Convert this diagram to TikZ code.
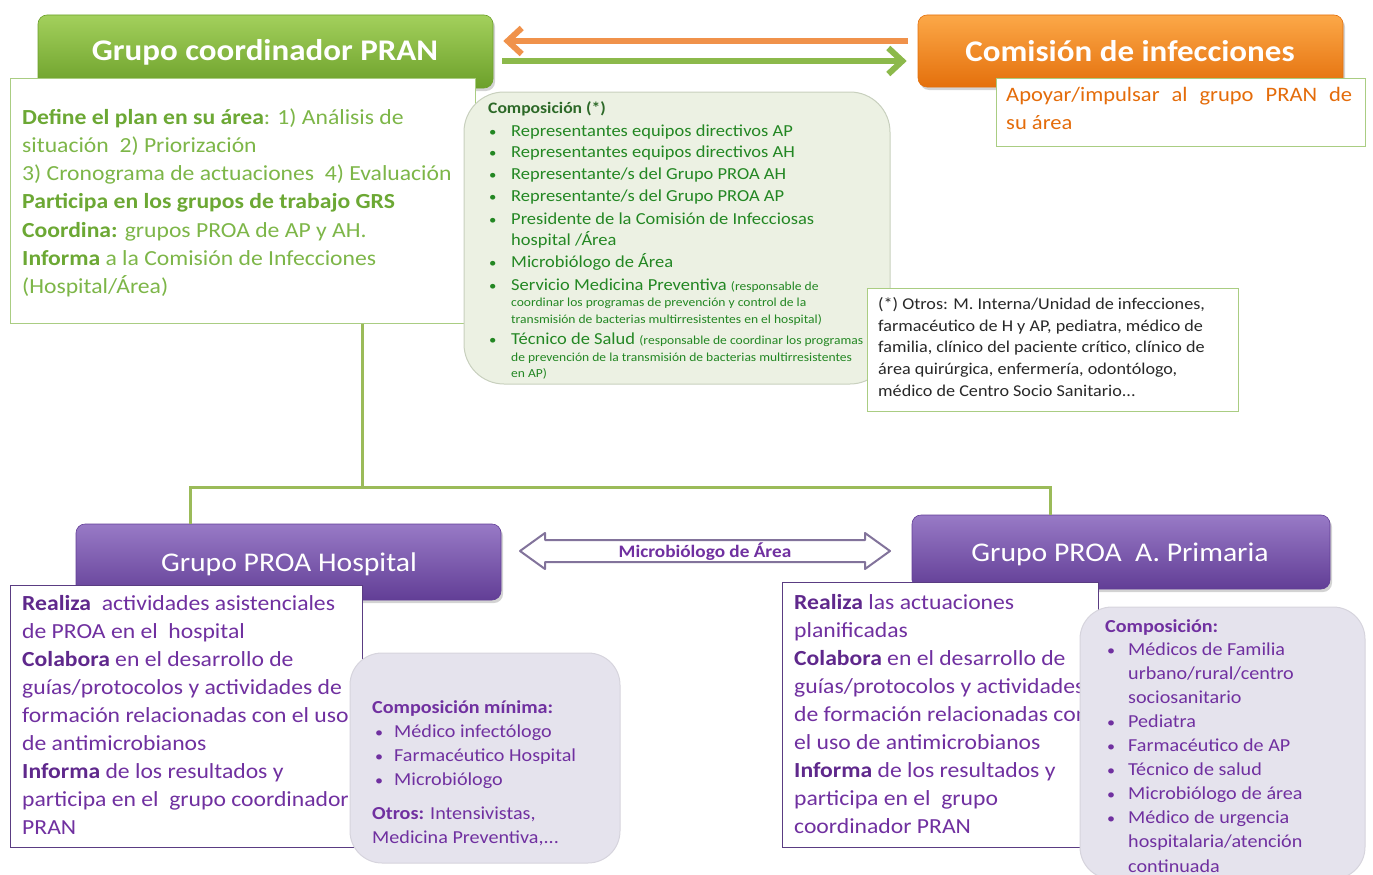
\documentclass[tikz,border=0pt]{standalone}
\usepackage{fontspec}
\setmainfont[FakeStretch=1.1]{Carlito}
\usetikzlibrary{arrows.meta,shadows,calc}
\definecolor{hgTop}{RGB}{163,208,92}
\definecolor{hgBot}{RGB}{108,160,42}
\definecolor{hoTop}{RGB}{252,168,72}
\definecolor{hoBot}{RGB}{228,112,12}
\definecolor{hpTop}{RGB}{152,122,198}
\definecolor{hpBot}{RGB}{98,62,150}
\definecolor{gReg}{RGB}{125,182,72}
\definecolor{gBold}{RGB}{108,168,52}
\definecolor{cGreen}{RGB}{35,135,35}
\definecolor{cTitle}{RGB}{45,105,40}
\definecolor{compFill}{RGB}{236,241,227}
\definecolor{compDraw}{RGB}{200,208,190}
\definecolor{oTxt}{RGB}{228,108,10}
\definecolor{otrosTxt}{RGB}{40,40,40}
\definecolor{pTxt}{RGB}{112,48,160}
\definecolor{pBold}{RGB}{95,40,140}
\definecolor{grayFill}{RGB}{229,227,237}
\definecolor{boxGreen}{RGB}{170,205,130}
\definecolor{boxPurple}{RGB}{90,60,130}
\definecolor{connG}{RGB}{155,187,89}
\definecolor{arrO}{RGB}{240,146,75}
\definecolor{arrG}{RGB}{140,185,75}
\definecolor{microDraw}{RGB}{130,115,155}
\newcommand\gbf[1]{{\bfseries\color{gBold}#1}}
\newcommand\pbf[1]{{\bfseries\color{pBold}#1}}
\newcommand\sm[1]{{\fontsize{12.3}{15}\selectfont #1}}
\newcommand\bul[1]{\makebox[#1][l]{\scalebox{0.8}{•}}}
\begin{document}
\begin{tikzpicture}[x=1pt,y=-1pt,
  hdr/.style={rounded corners=9pt, inner sep=0pt, drop shadow={opacity=0.35, shadow xshift=2pt, shadow yshift=-3pt}},
  hgreen/.style={hdr, top color=hgTop, bottom color=hgBot, draw=hgBot, line width=0.6pt},
  horange/.style={hdr, top color=hoTop, bottom color=hoBot, draw=hoBot, line width=0.6pt},
  hpurple/.style={hdr, top color=hpTop, bottom color=hpBot, draw=hpBot, line width=0.6pt},
  htitleB/.style={anchor=base, inner sep=0pt, text=white, font=\fontsize{30}{35}\selectfont\bfseries},
  htitle/.style={anchor=base, inner sep=0pt, text=white, font=\fontsize{27}{32}\selectfont},
  tbox/.style={draw=boxGreen, fill=white, line width=1pt, inner sep=0pt},
  pbox/.style={draw=boxPurple, fill=white, line width=1pt, inner sep=0pt},
  graybox/.style={fill=grayFill, draw=grayFill!85!gray, line width=1pt, rounded corners=32pt, inner sep=0pt},
  gtx/.style={anchor=base west, inner sep=0pt, font=\fontsize{21.5}{26}\selectfont, text=gReg},
  ctx/.style={anchor=base west, inner sep=0pt, font=\fontsize{16.8}{20}\selectfont, text=cGreen},
  otx/.style={anchor=base west, inner sep=0pt, font=\fontsize{20.5}{25}\selectfont, text=oTxt},
  rtx/.style={anchor=base west, inner sep=0pt, font=\fontsize{16.5}{20}\selectfont, text=otrosTxt},
  ptx/.style={anchor=base west, inner sep=0pt, font=\fontsize{21.5}{26}\selectfont, text=pTxt},
  ytx/.style={anchor=base west, inner sep=0pt, font=\fontsize{18.3}{22}\selectfont, text=pTxt},
  conn/.style={draw=connG, line width=3pt},
  bigarrow/.style={line width=6pt, -{Straight Barb[length=14pt,width=26pt]}}
]
\useasboundingbox (0,0) rectangle (1373,875);

% ---------- headers (drawn first, text boxes overlap them)
\node[hgreen, minimum width=455pt, minimum height=73pt] (pran) at (265.5,51.5) {};
\node[htitleB] (pranT) at (265,61) {Grupo coordinador PRAN};
\node[horange, minimum width=425pt, minimum height=72pt] (comision) at (1130.5,51) {};
\node[htitleB] (comisionT) at (1130,62) {Comisión de infecciones};

% ---------- arrows between headers
\draw[bigarrow, arrO] ([xshift=-10pt,yshift=10pt]comision.west) -- ([xshift=10pt,yshift=10pt]comision.west -| pran.east);
\draw[bigarrow, arrG] ([xshift=9pt,yshift=-9.5pt]pran.east) -- ([xshift=-11pt,yshift=-9.5pt]pran.east -| comision.west);

% ---------- connectors
\coordinate (jT) at (362,487);
\coordinate (jL) at (190,487);
\coordinate (jR) at (1050,487);
\node[hpurple, minimum width=425pt, minimum height=76pt] (hosp) at (288.5,562) {};
\node[hpurple, minimum width=418pt, minimum height=74pt] (prim) at (1121,552) {};
\node[tbox, minimum width=465pt, minimum height=245pt] (gtext) at (242.5,200.5) {};
\draw[conn] (gtext.south -| jT) -- (jT);
\draw[conn] (jL |- hosp.north) -- (jL) -- (jR) -- (jR |- prim.north);
\node[htitle] (hospT) at (289,571) {Grupo PROA Hospital};
\node[htitle] (primT) at (1120,561) {Grupo PROA\ \ A. Primaria};

% ---------- green text
\node[gtx] (g1) at (22,124) {\gbf{Define el plan en su área}: 1) Análisis de};
\node[gtx] (g2) at (22,152.3) {situación\ \ 2) Priorización};
\node[gtx] (g3) at (22,180.6) {3) Cronograma de actuaciones\ \ 4) Evaluación};
\node[gtx] (g4) at (22,208.9) {\gbf{Participa en los grupos de trabajo GRS}};
\node[gtx] (g5) at (22,237.2) {\gbf{Coordina:} grupos PROA de AP y AH.};
\node[gtx] (g6) at (22,265.5) {\gbf{Informa} a la Comisión de Infecciones};
\node[gtx] (g7) at (22,293.8) {(Hospital/Área)};

% ---------- composition box
\node[fill=compFill, draw=compDraw, line width=1pt, rounded corners=40pt, minimum width=426pt, minimum height=292pt, inner sep=0pt] (comp) at (677,238) {};
\node[ctx, text=cTitle, font=\fontsize{16}{20}\selectfont\bfseries] (c0) at (488,113) {Composición (*)};
\node[ctx] (c1) at (489,136) {\bul{22pt}Representantes equipos directivos AP};
\node[ctx] (c2) at (489,157) {\bul{22pt}Representantes equipos directivos AH};
\node[ctx] (c3) at (489,179.3) {\bul{22pt}Representante/s del Grupo PROA AH};
\node[ctx] (c4) at (489,201.7) {\bul{22pt}Representante/s del Grupo PROA AP};
\node[ctx] (c5) at (489,224) {\bul{22pt}Presidente de la Comisión de Infecciosas};
\node[ctx] (c6) at (511,245) {hospital /Área};
\node[ctx] (c7) at (489,267.3) {\bul{22pt}Microbiólogo de Área};
\node[ctx] (c8) at (489,290) {\bul{22pt}Servicio Medicina Preventiva \sm{(responsable de}};
\node[ctx] (c9) at (511,306.7) {\sm{coordinar los programas de prevención y control de la}};
\node[ctx] (c10) at (511,323.3) {\sm{transmisión de bacterias multirresistentes en el hospital)}};
\node[ctx] (c11) at (489,344) {\bul{22pt}Técnico de Salud \sm{(responsable de coordinar los programas}};
\node[ctx] (c12) at (511,361) {\sm{de prevención de la transmisión de bacterias multirresistentes}};
\node[ctx] (c13) at (511,377.7) {\sm{en AP)}};

% ---------- orange text box
\node[tbox, minimum width=369pt, minimum height=68pt] (otext) at (1180.5,112) {};
\node[otx] (o1) at (1006,101) {\hbox to 346pt{Apoyar/impulsar\hfill al\hfill grupo\hfill PRAN\hfill de}};
\node[otx] (o2) at (1006,129.5) {su área};

% ---------- otros box
\node[tbox, minimum width=371pt, minimum height=123pt] (otros) at (1052.5,349.5) {};
\node[rtx] (r1) at (878,309.3) {(*) Otros: M. Interna/Unidad de infecciones,};
\node[rtx] (r2) at (878,331) {farmacéutico de H y AP, pediatra, médico de};
\node[rtx] (r3) at (878,352.7) {familia, clínico del paciente crítico, clínico de};
\node[rtx] (r4) at (878,374.3) {área quirúrgica, enfermería, odontólogo,};
\node[rtx] (r5) at (878,396) {médico de Centro Socio Sanitario...};

% ---------- microbiologo double arrow
\coordinate (micro) at (705,557);
\draw[draw=microDraw, fill=white, line width=2pt, line join=round]
  ($(micro)+(-185,-6)$) -- ++(25,-18) -- ++(0,7) -- ++(320,0) -- ++(0,-7) -- ++(25,18)
  -- ++(-25,18) -- ++(0,-7) -- ++(-320,0) -- ++(0,7) -- cycle;
\node[inner sep=0pt, anchor=base, text=pTxt, font=\fontsize{17.5}{20}\selectfont\bfseries] (microT) at (micro) {Microbiólogo de Área};

% ---------- left purple text box
\node[pbox, minimum width=352pt, minimum height=262pt] (lpbox) at (186,716) {};
\node[ptx] (p1) at (22,610) {\pbf{Realiza}\ \ actividades asistenciales};
\node[ptx] (p2) at (22,638) {de PROA en el\ \ hospital};
\node[ptx] (p3) at (22,666) {\pbf{Colabora} en el desarrollo de};
\node[ptx] (p4) at (22,694) {guías/protocolos y actividades de};
\node[ptx] (p5) at (22,722) {formación relacionadas con el uso};
\node[ptx] (p6) at (22,750) {de antimicrobianos};
\node[ptx] (p7) at (22,778) {\pbf{Informa} de los resultados y};
\node[ptx] (p8) at (22,806) {participa en el\ \ grupo coordinador};
\node[ptx] (p9) at (22,834) {PRAN};

% ---------- right purple text box
\node[pbox, minimum width=316pt, minimum height=265pt] (rpbox) at (940,714.5) {};
\node[ptx] (q1) at (794,609) {\pbf{Realiza} las actuaciones};
\node[ptx] (q2) at (794,637) {planificadas};
\node[ptx] (q3) at (794,665) {\pbf{Colabora} en el desarrollo de};
\node[ptx] (q4) at (794,693) {guías/protocolos y actividades};
\node[ptx] (q5) at (794,721) {de formación relacionadas con};
\node[ptx] (q6) at (794,749) {el uso de antimicrobianos};
\node[ptx] (q7) at (794,777) {\pbf{Informa} de los resultados y};
\node[ptx] (q8) at (794,805) {participa en el\ \ grupo};
\node[ptx] (q9) at (794,833) {coordinador PRAN};

% ---------- left gray box
\node[graybox, minimum width=270pt, minimum height=210pt] (lgray) at (485,758) {};
\node[ytx] (y0) at (372,713) {\textbf{Composición mínima:}};
\node[ytx] (y1) at (375,737) {\bul{19pt}Médico infectólogo};
\node[ytx] (y2) at (375,761) {\bul{19pt}Farmacéutico Hospital};
\node[ytx] (y3) at (375,785) {\bul{19pt}Microbiólogo};
\node[ytx] (y4) at (372,819) {\textbf{Otros:} Intensivistas,};
\node[ytx] (y5) at (372,843) {Medicina Preventiva,...};

% ---------- right gray box
\node[graybox, minimum width=285pt, minimum height=272pt] (rgray) at (1222.5,743) {};
\node[ytx] (z0) at (1105,632) {\textbf{Composición:}};
\node[ytx] (z1) at (1107,655) {\bul{21pt}Médicos de Familia};
\node[ytx] (z2) at (1128,679) {urbano/rural/centro};
\node[ytx] (z3) at (1128,703) {sociosanitario};
\node[ytx] (z4) at (1107,727) {\bul{21pt}Pediatra};
\node[ytx] (z5) at (1107,751) {\bul{21pt}Farmacéutico de AP};
\node[ytx] (z6) at (1107,775) {\bul{21pt}Técnico de salud};
\node[ytx] (z7) at (1107,799) {\bul{21pt}Microbiólogo de área};
\node[ytx] (z8) at (1107,823) {\bul{21pt}Médico de urgencia};
\node[ytx] (z9) at (1128,847) {hospitalaria/atención};
\node[ytx] (z10) at (1128,872) {continuada};
\end{tikzpicture}
\end{document}
